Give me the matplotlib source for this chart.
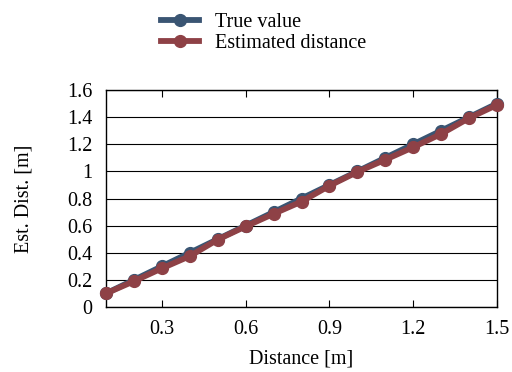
import matplotlib
matplotlib.use("Agg")
import matplotlib.pyplot as plt

plt.rcParams['font.family'] = ['Liberation Serif', 'DejaVu Serif']
plt.rcParams['mathtext.fontset'] = 'stix'

distance = [0.1, 0.2, 0.3, 0.4, 0.5, 0.6, 0.7, 0.8, 0.9, 1.0, 1.1, 1.2, 1.3, 1.4, 1.5]
true_value = [0.1, 0.2, 0.3, 0.4, 0.5, 0.6, 0.7, 0.8, 0.9, 1.0, 1.1, 1.2, 1.3, 1.4, 1.5]
estimated = [0.1, 0.19, 0.285, 0.375, 0.497, 0.594, 0.687, 0.777, 0.894, 0.996, 1.086, 1.178, 1.276, 1.393, 1.49]
xticks = [0.3, 0.6, 0.9, 1.2, 1.5]
yticks = [0, 0.2, 0.4, 0.6, 0.8, 1, 1.2, 1.4, 1.6]
ytick_labels = ['0', '0.2', '0.4', '0.6', '0.8', '1', '1.2', '1.4', '1.6']

FS = 14.5
fig = plt.figure(figsize=(5.12, 3.72), dpi=100)
ax = fig.add_axes([106/512, 1 - 307/372, (497-106)/512, (307-90)/372])

ax.plot(distance, true_value, color='#3a5573', lw=4.2, marker='o', ms=8.5, label='True value', zorder=3, clip_on=False)
ax.plot(distance, estimated, color='#8e4146', lw=4.2, marker='o', ms=8.5, label='Estimated distance', zorder=4, clip_on=False)

ax.set_xlim(0.1, 1.5)
ax.set_ylim(0, 1.6)
ax.set_xticks(xticks)
ax.set_xticklabels([f'{t:g}' for t in xticks])
ax.set_yticks(yticks)
ax.set_yticklabels(ytick_labels)
ax.yaxis.grid(True, color='black', lw=0.8)
ax.set_axisbelow(True)
ax.tick_params(axis='x', direction='in', top=True, length=5, width=0.8, labelsize=FS, pad=9)
ax.tick_params(axis='y', length=0, labelsize=FS, pad=10)
for s in ax.spines.values():
    s.set_linewidth(1.0)
    s.set_color('black')

ax.set_xlabel('Distance [m]', fontsize=FS, labelpad=8)
ax.set_ylabel('Est. Dist. [m]', fontsize=FS, labelpad=24)

fig.legend(loc='upper center', bbox_to_anchor=(0.515, 1.015), frameon=False, fontsize=FS,
           handlelength=1.9, labelspacing=0.1, handletextpad=0.8)

fig.savefig('out.png', dpi=100)
